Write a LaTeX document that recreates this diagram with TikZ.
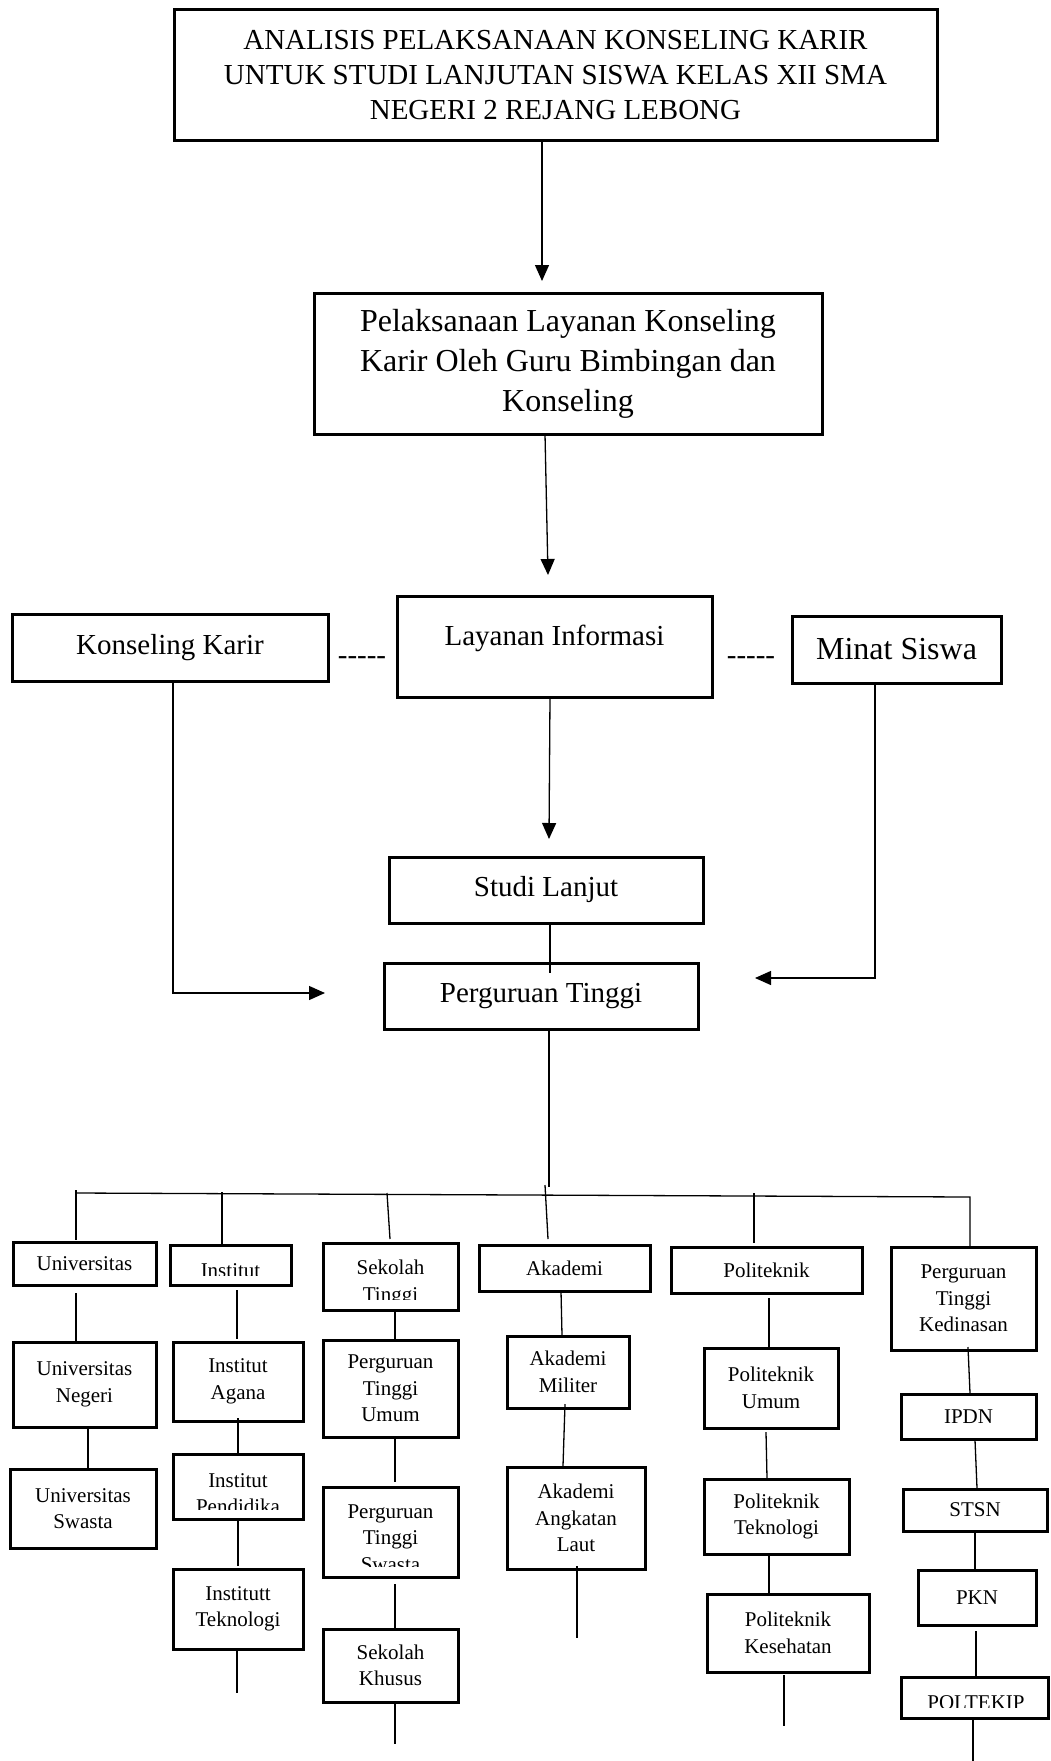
\documentclass[tikz,border=0pt]{standalone}
\usepackage{fontspec}
\setmainfont{Liberation Serif}
\usetikzlibrary{arrows.meta}
\tikzset{
  box/.style={draw, line width=3pt, inner sep=0pt, outer sep=0pt, align=center},
  big/.style={font=\fontsize{29}{35}\selectfont},
  bigger/.style={font=\fontsize{32}{40}\selectfont},
  small/.style={font=\fontsize{21}{26.5}\selectfont},
  conn/.style={line width=1.3pt},
  arr/.style={conn, -{Triangle[length=16pt,width=14pt]}},
  lbl/.style={inner sep=0pt, outer sep=0pt, anchor=base, font=\fontsize{21}{26.5}\selectfont},
}
\begin{document}
\begin{tikzpicture}[x=1pt,y=-1pt]
\useasboundingbox (0,0) rectangle (1050,1761);

% ---------- upper part ----------
\node[box,big,minimum width=763pt,minimum height=130pt] (title) at (555.5,75)
  {ANALISIS PELAKSANAAN KONSELING KARIR\\UNTUK STUDI LANJUTAN SISWA KELAS XII SMA\\NEGERI 2 REJANG LEBONG};
\node[box,bigger,minimum width=508pt,minimum height=141pt] (pel) at (568,363.5)
  {Pelaksanaan Layanan Konseling\\Karir Oleh Guru Bimbingan dan\\Konseling};
\node[box,big,minimum width=316pt,minimum height=67pt] (kk) at (170,647.5) {Konseling Karir};
\node[box,big,minimum width=315pt,minimum height=101pt,text depth=23pt] (li) at (554.5,646.5) {Layanan Informasi};
\node[box,bigger,minimum width=209pt,minimum height=67pt] (ms) at (896.5,649.5) {Minat Siswa};
\node[box,big,minimum width=314pt,minimum height=66pt] (sl) at (546,890) {Studi Lanjut};
\node[box,big,minimum width=314pt,minimum height=66pt] (pt) at (541,996) {Perguruan Tinggi};

\node[big,anchor=base,inner sep=0pt] (dashL) at (362,664) {\mbox{-}\mbox{-}\mbox{-}\mbox{-}\mbox{-}};
\node[big,anchor=base,inner sep=0pt] (dashR) at (751,664) {\mbox{-}\mbox{-}\mbox{-}\mbox{-}\mbox{-}};

% ---------- first level ----------
\node[box,small,minimum width=143pt,minimum height=43pt] (univ) at (84.5,1263.5) {Universitas};
\node[box,minimum width=121pt,minimum height=40pt] (inst) at (230.5,1265) {};
\node[box,minimum width=135pt,minimum height=67pt] (st) at (390.5,1276.5) {};
\node[box,small,minimum width=171pt,minimum height=46pt] (ak) at (564.5,1268) {Akademi};
\node[box,small,minimum width=191pt,minimum height=46pt] (pol) at (766.5,1270) {Politeknik};
\node[box,small,minimum width=145pt,minimum height=103pt] (ptk) at (963.5,1298.5) {Perguruan\\Tinggi\\Kedinasan};

% ---------- columns ----------
\node[box,small,minimum width=143pt,minimum height=85pt] (un) at (84.5,1384.5) {Universitas\\Negeri};
\node[box,small,minimum width=146pt,minimum height=79pt] (us) at (83,1508.5) {Universitas\\Swasta};

\node[box,small,minimum width=130pt,minimum height=79pt] (ia) at (238,1381.5) {Institut\\Agana};
\node[box,minimum width=130pt,minimum height=65pt] (ip) at (238,1486.5) {};
\node[box,small,minimum width=130pt,minimum height=80pt] (it) at (238,1609) {Institutt\\Teknologi};

\node[box,small,minimum width=135pt,minimum height=97pt] (ptu) at (390.5,1388.5) {Perguruan\\Tinggi\\Umum};
\node[box,minimum width=135pt,minimum height=90pt] (pts) at (390.5,1532) {};
\node[box,small,minimum width=135pt,minimum height=73pt] (sk) at (390.5,1665.5) {Sekolah\\Khusus};

\node[box,small,minimum width=122pt,minimum height=72pt] (am) at (568,1372) {Akademi\\Militer};
\node[box,small,minimum width=138pt,minimum height=102pt] (aal) at (576,1518) {Akademi\\Angkatan\\Laut};

\node[box,small,minimum width=134pt,minimum height=80pt] (pu) at (771,1388) {Politeknik\\Umum};
\node[box,small,minimum width=145pt,minimum height=75pt] (ptek) at (776.5,1516.5) {Politeknik\\Teknologi};
\node[box,small,minimum width=162pt,minimum height=78pt] (pk) at (788,1633) {Politeknik\\Kesehatan};

\node[box,small,minimum width=135pt,minimum height=45pt] (ipdn) at (968.5,1416.5) {IPDN};
\node[box,small,minimum width=144pt,minimum height=42pt] (stsn) at (975,1510) {STSN};
\node[box,small,minimum width=118pt,minimum height=55pt] (pkn) at (977,1597.5) {PKN};
\node[box,minimum width=147pt,minimum height=41pt] (polt) at (974.5,1697.5) {};

% ---------- clipped texts ----------
\begin{scope}
  \clip (170,1245) rectangle (291,1275);
  \node[lbl] (instT) at (230.5,1277) {Institut};
\end{scope}
\begin{scope}
  \clip (323,1243) rectangle (458,1299);
  \node[lbl] (stA) at (390.5,1274) {Sekolah};
  \node[lbl] (stB) at (390.5,1301) {Tinggi};
\end{scope}
\begin{scope}
  \clip (173,1454) rectangle (303,1509);
  \node[lbl] (ipA) at (238,1487) {Institut};
  \node[lbl] (ipB) at (238,1513) {Pendidika};
\end{scope}
\begin{scope}
  \clip (323,1487) rectangle (458,1566);
  \node[lbl] (ptsA) at (390.5,1518) {Perguruan};
  \node[lbl] (ptsB) at (390.5,1544) {Tinggi};
  \node[lbl] (ptsC) at (390.5,1571) {Swasta};
\end{scope}
\begin{scope}
  \clip (901,1677) rectangle (1048,1707);
  \node[lbl] (poltT) at (976,1709) {POLTEKIP};
\end{scope}

% ---------- coordinates for free ends ----------
\coordinate (t1) at (542,281);
\coordinate (t2) at (548,575);
\coordinate (t3) at (549,839);
\coordinate (t4) at (325,993);
\coordinate (t5) at (755,978);
\coordinate (ptEnd) at (549,1187);
\coordinate (busL) at (76,1193);
\coordinate (busR) at (970,1197);
\coordinate (dU) at (76,1190);
\coordinate (dI) at (222,1192);
\coordinate (dS) at (387,1193);
\coordinate (dA) at (545,1185);
\coordinate (dP) at (754,1193);
\coordinate (eI) at (237,1693);
\coordinate (eS) at (395,1744);
\coordinate (eA) at (577,1638);
\coordinate (eP) at (784,1726);
\coordinate (eK) at (973,1761);

% ---------- upper connectors ----------
\draw[arr] ([xshift=-13.5pt]title.south) -- (t1);
\draw[arr] ([xshift=-23pt]pel.south) -- (t2);
\draw[arr] ([xshift=-4.5pt]li.south) -- (t3);
\draw[conn] ([xshift=4pt]sl.south) -- ([xshift=9pt,yshift=-10pt]pt.north);
\draw[arr] ([xshift=3pt]kk.south) |- (t4);
\draw[arr] ([xshift=-21.5pt]ms.south) |- (t5);
\draw[conn] ([xshift=8pt]pt.south) -- (ptEnd);

% ---------- bus and drops ----------
\draw[conn] (busL) -- (busR) -- ([xshift=6.5pt]ptk.north);
\draw[conn] (dU) -- ([xshift=-8.5pt,yshift=2pt]univ.north);
\draw[conn] (dI) -- ([xshift=-8.5pt,yshift=1pt]inst.north);
\draw[conn] (dS) -- ([xshift=-0.5pt,yshift=4pt]st.north);
\draw[conn] (dA) -- ([xshift=-16.5pt,yshift=6pt]ak.north);
\draw[conn] (dP) -- ([xshift=-12.5pt,yshift=4pt]pol.north);

% ---------- column connectors ----------
\draw[conn] ([xshift=-8.5pt,yshift=-8pt]univ.south) -- ([xshift=-8.5pt]un.north);
\draw[conn] ([xshift=3.5pt]un.south) -- ([xshift=5pt]us.north);

\draw[conn] ([xshift=6.5pt,yshift=-5pt]inst.south) -- ([xshift=-1pt,yshift=3pt]ia.north);
\draw[conn] ([yshift=3pt]ia.south) -- (ip.north);
\draw[conn] ([yshift=1pt]ip.south) -- ([yshift=3pt]it.north);
\draw[conn] ([xshift=-1pt]it.south) -- (eI);

\draw[conn] ([xshift=4.5pt]st.south) -- ([xshift=4.5pt]ptu.north);
\draw[conn] ([xshift=4.5pt]ptu.south) -- ([xshift=4.5pt,yshift=5pt]pts.north);
\draw[conn] ([xshift=4.5pt,yshift=-7pt]pts.south) -- ([xshift=4.5pt,yshift=1pt]sk.north);
\draw[conn] ([xshift=4.5pt]sk.south) -- (eS);

\draw[conn] ([xshift=-3.5pt]ak.south) -- ([xshift=-6pt,yshift=1pt]am.north);
\draw[conn] ([xshift=-3pt,yshift=4pt]am.south) -- ([xshift=-13pt,yshift=1pt]aal.north);
\draw[conn] ([xshift=1pt,yshift=3pt]aal.south) -- (eA);

\draw[conn] ([xshift=2.5pt,yshift=-5pt]pol.south) -- ([xshift=-2pt,yshift=1pt]pu.north);
\draw[conn] ([xshift=-5pt,yshift=-4pt]pu.south) -- ([xshift=-9.5pt,yshift=1pt]ptek.north);
\draw[conn] ([xshift=-7.5pt]ptek.south) -- ([xshift=-19pt]pk.north);
\draw[conn] ([xshift=-4pt,yshift=-3pt]pk.south) -- (eP);

\draw[conn] ([xshift=4.5pt,yshift=3pt]ptk.south) -- ([xshift=1.5pt,yshift=1pt]ipdn.north);
\draw[conn] ([xshift=6.5pt,yshift=-1pt]ipdn.south) -- ([xshift=2pt,yshift=1pt]stsn.north);
\draw[conn] (stsn.south) -- ([xshift=-2pt]pkn.north);
\draw[conn] ([xshift=-1pt,yshift=-6pt]pkn.south) -- ([xshift=1.5pt]polt.north);
\draw[conn] ([xshift=-1.5pt]polt.south) -- (eK);
\end{tikzpicture}
\end{document}
